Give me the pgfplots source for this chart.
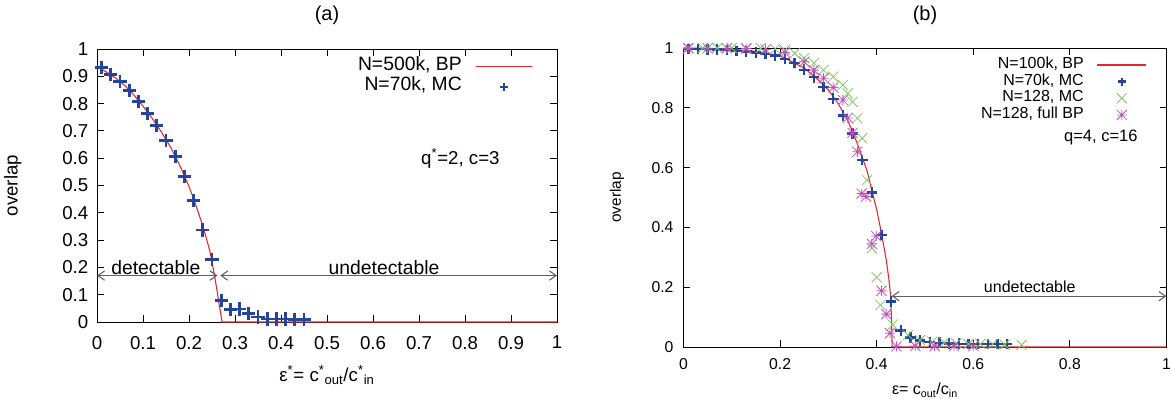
\documentclass[border=0pt]{standalone}
\usepackage{fontspec}
\setmainfont{Liberation Sans}
\usepackage{pgfplots}
\pgfplotsset{compat=1.18}
\usetikzlibrary{arrows.meta}
\definecolor{bpred}{RGB}{228,38,48}
\definecolor{mcblue}{RGB}{38,68,158}
\definecolor{mcgreen}{RGB}{125,200,95}
\definecolor{bppink}{RGB}{192,85,182}
\definecolor{arrgray}{RGB}{95,95,95}
\pgfdeclareplotmark{gstar}{%
  \pgfpathmoveto{\pgfqpoint{-\pgfplotmarksize}{0pt}}\pgfpathlineto{\pgfqpoint{\pgfplotmarksize}{0pt}}%
  \pgfpathmoveto{\pgfqpoint{0pt}{-\pgfplotmarksize}}\pgfpathlineto{\pgfqpoint{0pt}{\pgfplotmarksize}}%
  \pgfpathmoveto{\pgfqpoint{-\pgfplotmarksize}{-\pgfplotmarksize}}\pgfpathlineto{\pgfqpoint{\pgfplotmarksize}{\pgfplotmarksize}}%
  \pgfpathmoveto{\pgfqpoint{-\pgfplotmarksize}{\pgfplotmarksize}}\pgfpathlineto{\pgfqpoint{\pgfplotmarksize}{-\pgfplotmarksize}}%
  \pgfusepathqstroke}
\pgfdeclareplotmark{gx}{%
  \pgfpathmoveto{\pgfqpoint{-\pgfplotmarksize}{-\pgfplotmarksize}}\pgfpathlineto{\pgfqpoint{\pgfplotmarksize}{\pgfplotmarksize}}%
  \pgfpathmoveto{\pgfqpoint{-\pgfplotmarksize}{\pgfplotmarksize}}\pgfpathlineto{\pgfqpoint{\pgfplotmarksize}{-\pgfplotmarksize}}%
  \pgfusepathqstroke}
\pgfplotsset{
  common/.style={
    scale only axis, xmin=0, xmax=1, ymin=0, ymax=1,
    axis line style={black, line width=0.7pt},
    tick style={black, line width=0.6pt},
    tick align=inside, xtick pos=both, ytick pos=both,
    major tick length=5pt,
    /pgf/number format/assume math mode=true,
    clip=false,
    legend plot pos=right, legend cell align=right,
  }
}
\begin{document}
\begin{tikzpicture}
\path[use as bounding box] (0,0) rectangle (879pt,299.25pt);
% ---------------- (a) ----------------
\begin{axis}[common,
  at={(72.75pt,57.75pt)}, anchor=south west,
  width=345pt, height=204.75pt,
  xtick={0,0.1,0.2,0.3,0.4,0.5,0.6,0.7,0.8,0.9,1},
  ytick={0,0.1,0.2,0.3,0.4,0.5,0.6,0.7,0.8,0.9,1},
  xticklabels={0,0.1,0.2,0.3,0.4,0.5,0.6,0.7,0.8,0.9,1},
  yticklabels={0,0.1,0.2,0.3,0.4,0.5,0.6,0.7,0.8,0.9,1},
  tick label style={font=\fontsize{14}{16}\selectfont},
  xticklabel style={yshift=-7pt},
  yticklabel style={xshift=-3pt},
  xlabel={ε\textsuperscript{*}= c\textsuperscript{*}\textsubscript{out}/c\textsuperscript{*}\textsubscript{in}},
  ylabel={overlap},
  xlabel style={at={(axis description cs:0.5,-0.195)}, anchor=center, font=\fontsize{14}{16}\selectfont},
  ylabel style={at={(axis description cs:-0.183,0.5)}, anchor=center, font=\fontsize{14}{16}\selectfont},
  title={(a)},
  title style={at={(axis description cs:0.5,1.095)}, anchor=center, font=\fontsize{15}{17}\selectfont},
  legend style={at={(axis description cs:0.948,0.975)}, anchor=north east, draw=none, fill=none,
    inner sep=0pt, column sep=10pt, row sep=0pt,
    font=\fontsize{14.5}{16}\selectfont,
    nodes={inner sep=0pt, text height=10.5pt, text depth=5pt}},
]
\addplot[bpred, line width=0.8pt, no marks,
  legend image code/.code={\draw[bpred, line width=0.8pt] (0pt,0pt) -- (42.5pt,0pt);}] coordinates {
(0,0.935) (0.02,0.916) (0.04,0.894) (0.06,0.867) (0.08,0.832) (0.10,0.791)
(0.12,0.746) (0.14,0.696) (0.16,0.640) (0.18,0.574) (0.20,0.496) (0.21,0.452)
(0.22,0.402) (0.23,0.352) (0.238,0.305) (0.245,0.262) (0.25,0.22) (0.255,0.175)
(0.26,0.125) (0.265,0.07) (0.272,0.0) (1,0)};
\addlegendentry{N=500k, BP}
\addplot[only marks, mcblue, mark=+, mark size=5pt, mark options={line width=2pt},
  legend image code/.code={\draw[mcblue, line width=1.4pt] plot[mark=+, mark size=2.8pt, only marks] coordinates {(21.25pt,0pt)};}] coordinates {
(0.01,0.933) (0.03,0.906) (0.05,0.882) (0.07,0.849) (0.09,0.807) (0.11,0.763)
(0.13,0.719) (0.15,0.664) (0.17,0.605) (0.19,0.532) (0.21,0.444) (0.23,0.337)
(0.25,0.230) (0.27,0.078) (0.29,0.045) (0.31,0.047) (0.33,0.030) (0.35,0.018)
(0.37,0.011) (0.39,0.011) (0.41,0.011) (0.43,0.010) (0.45,0.010)};
\addlegendentry{N=70k, MC}
\draw[arrgray, line width=0.8pt, {Straight Barb[length=5pt,width=7pt]}-{Straight Barb[length=5pt,width=7pt]}] (axis cs:0,0.17) -- (axis cs:0.262,0.17);
\draw[arrgray, line width=0.8pt, {Straight Barb[length=5pt,width=7pt]}-{Straight Barb[length=5pt,width=7pt]}] (axis cs:0.268,0.17) -- (axis cs:1,0.17);
\node[font=\fontsize{14.5}{16}\selectfont] at (axis cs:0.128,0.2) {detectable};
\node[font=\fontsize{14.5}{16}\selectfont] at (axis cs:0.624,0.2) {undetectable};
\node[font=\fontsize{14}{16}\selectfont] at (axis cs:0.79,0.6) {q\textsuperscript{*}=2, c=3};
\end{axis}
% ---------------- (b) ----------------
\begin{axis}[common,
  at={(512.6pt,39pt)}, anchor=south west,
  width=362.25pt, height=224.25pt,
  xtick={0,0.2,0.4,0.6,0.8,1},
  ytick={0,0.2,0.4,0.6,0.8,1},
  xticklabels={0,0.2,0.4,0.6,0.8,1},
  yticklabels={0,0.2,0.4,0.6,0.8,1},
  tick label style={font=\fontsize{11.8}{13}\selectfont},
  xticklabel style={yshift=-5pt},
  yticklabel style={xshift=-4pt},
  xlabel={ε= c\textsubscript{out}/c\textsubscript{in}},
  ylabel={overlap},
  xlabel style={at={(axis description cs:0.5,-0.145)}, anchor=center, font=\fontsize{12}{14}\selectfont},
  ylabel style={at={(axis description cs:-0.138,0.5)}, anchor=center, font=\fontsize{11.5}{13}\selectfont},
  title={(b)},
  title style={at={(axis description cs:0.5,1.084)}, anchor=center, font=\fontsize{15}{17}\selectfont},
  legend style={at={(axis description cs:0.96,0.972)}, anchor=north east, draw=none, fill=none,
    inner sep=0pt, column sep=9.75pt, row sep=0pt,
    font=\fontsize{12}{14}\selectfont,
    nodes={inner sep=0pt, text height=9pt, text depth=3.5pt}},
  legend image code/.code={\draw[mark repeat=2,mark phase=2,#1] plot coordinates {(0pt,0pt) (18.4pt,0pt) (36.8pt,0pt)};},
]
\addplot[bpred, line width=0.8pt, no marks,
  legend image code/.code={\draw[bpred, line width=0.8pt] (0pt,0pt) -- (36.8pt,0pt);}] coordinates {
(0,1.0) (0.05,0.999) (0.10,0.996) (0.15,0.989) (0.20,0.974) (0.25,0.933)
(0.28,0.892) (0.30,0.860) (0.32,0.815) (0.34,0.758) (0.36,0.680) (0.37,0.635)
(0.38,0.590) (0.39,0.523) (0.40,0.460) (0.41,0.380) (0.42,0.290) (0.425,0.230)
(0.429,0.170) (0.431,0.080) (0.432,0.0) (1,0)};
\addlegendentry{N=100k, BP}
\addplot[only marks, mcblue, mark=+, mark size=4pt, mark options={line width=1.8pt},
  legend image code/.code={\draw[mcblue, line width=1.5pt] plot[mark=+, mark size=3pt, only marks] coordinates {(18.4pt,0pt)};}] coordinates {
(0.01,0.997) (0.03,0.997) (0.05,0.996) (0.07,0.995) (0.09,0.993) (0.11,0.990)
(0.13,0.988) (0.15,0.985) (0.17,0.980) (0.19,0.975) (0.21,0.964) (0.23,0.950)
(0.25,0.927) (0.27,0.902) (0.29,0.869) (0.31,0.830) (0.33,0.774) (0.35,0.714)
(0.37,0.625) (0.39,0.517) (0.41,0.375) (0.43,0.152) (0.45,0.055) (0.47,0.032)
(0.49,0.022) (0.51,0.017) (0.53,0.014) (0.55,0.012) (0.57,0.011) (0.59,0.010)
(0.61,0.010) (0.63,0.010) (0.65,0.010) (0.67,0.010)};
\addlegendentry{N=70k, MC}
\addplot[only marks, mcgreen, mark=gx, mark size=3.8pt, mark options={line width=0.6pt}] coordinates {
(0.01,1.0) (0.04,1.0) (0.07,1.0) (0.10,1.0) (0.13,1.0) (0.16,1.0)
(0.19,0.997) (0.21,0.993) (0.23,0.982) (0.25,0.966) (0.27,0.949) (0.29,0.926)
(0.31,0.904) (0.33,0.876) (0.34,0.848) (0.35,0.820) (0.36,0.765) (0.37,0.698)
(0.38,0.558) (0.39,0.330) (0.40,0.233) (0.408,0.140) (0.433,0.075) (0.465,0.040)
(0.49,0.023) (0.515,0.018) (0.54,0.015) (0.565,0.012) (0.59,0.010) (0.615,0.010)
(0.64,0.010) (0.665,0.008) (0.70,0.007)};
\addlegendentry{N=128, MC}
\addplot[only marks, bppink, mark=gstar, mark size=3.8pt, mark options={line width=0.6pt}] coordinates {
(0.01,0.999) (0.05,0.999) (0.09,0.999) (0.13,0.998) (0.17,0.995) (0.21,0.985)
(0.25,0.954) (0.27,0.926) (0.29,0.899) (0.31,0.868) (0.33,0.826) (0.34,0.766)
(0.35,0.716) (0.36,0.653) (0.369,0.513) (0.378,0.503) (0.39,0.345) (0.399,0.371)
(0.41,0.188) (0.42,0.110) (0.4275,0.046) (0.441,0.002) (0.48,0.003) (0.52,0.003)
(0.56,0.003) (0.60,0.003)};
\addlegendentry{N=128, full BP}
\draw[arrgray, line width=0.8pt, {Straight Barb[length=5pt,width=7pt]}-{Straight Barb[length=5pt,width=7pt]}] (axis cs:0.431,0.17) -- (axis cs:1,0.17);
\node[font=\fontsize{12}{14}\selectfont] at (axis cs:0.717,0.2) {undetectable};
\node[font=\fontsize{12.4}{14}\selectfont, anchor=east] at (axis cs:0.95,0.70) {q=4, c=16};
\end{axis}
\end{tikzpicture}
\end{document}
